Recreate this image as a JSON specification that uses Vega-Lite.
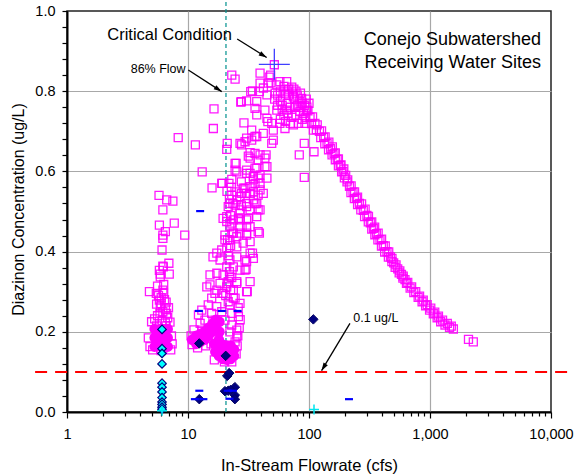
{
  "$schema": "https://vega.github.io/schema/vega-lite/v6.json",
  "width": 484,
  "height": 401,
  "autosize": {"type": "none"},
  "padding": {"left": 67, "top": 11, "right": 32, "bottom": 62},
  "background": "white",
  "config": {
    "font": "Liberation Sans",
    "view": {"stroke": "#222222", "strokeWidth": 1.5},
    "axis": {"labelFont": "Liberation Sans", "titleFont": "Liberation Sans", "labelColor": "#000", "titleColor": "#000", "domainColor": "#000", "tickColor": "#000", "titleFontWeight": "normal"}
  },
  "datasets": {
    "samples": [
      {"flow":8.3,"conc":0.684},{"flow":5.76,"conc":0.54},{"flow":6.67,"conc":0.529},{"flow":7.5,"conc":0.526},{"flow":6.2,"conc":0.504},{"flow":5.8,"conc":0.466},{"flow":7.7,"conc":0.471},{"flow":6.5,"conc":0.45},{"flow":6.2,"conc":0.441},{"flow":6.2,"conc":0.433},{"flow":9.4,"conc":0.441},{"flow":6.1,"conc":0.404},{"flow":6.95,"conc":0.371},{"flow":6.2,"conc":0.364},{"flow":5.8,"conc":0.353},{"flow":5.9,"conc":0.337},{"flow":7.0,"conc":0.344},{"flow":5.9,"conc":0.344},{"flow":6.25,"conc":0.362},{"flow":5.6,"conc":0.314},{"flow":6.2,"conc":0.304},{"flow":4.8,"conc":0.3},{"flow":5.47,"conc":0.296},{"flow":6.3,"conc":0.296},{"flow":6.6,"conc":0.274},{"flow":5.8,"conc":0.279},{"flow":5.5,"conc":0.269},{"flow":6.5,"conc":0.257},{"flow":5.87,"conc":0.246},{"flow":6.66,"conc":0.246},{"flow":5.7,"conc":0.29},{"flow":6.0,"conc":0.285},{"flow":6.4,"conc":0.28},{"flow":5.9,"conc":0.262},{"flow":6.2,"conc":0.25},{"flow":5.6,"conc":0.24},{"flow":6.8,"conc":0.235},{"flow":5.3,"conc":0.232},{"flow":6.1,"conc":0.228},{"flow":5.0,"conc":0.225},{"flow":6.5,"conc":0.222},{"flow":7.1,"conc":0.224},{"flow":4.7,"conc":0.185},{"flow":4.85,"conc":0.163},{"flow":7.3,"conc":0.19},{"flow":7.4,"conc":0.17},{"flow":5.1,"conc":0.155},{"flow":7.2,"conc":0.155},{"flow":6.0,"conc":0.153},{"flow":5.5,"conc":0.215},{"flow":6.6,"conc":0.215},{"flow":6.9,"conc":0.26},{"flow":6.0,"conc":0.27},{"flow":6.3,"conc":0.318},
      {"flow":23.0,"conc":0.84},{"flow":24.5,"conc":0.83},{"flow":16.4,"conc":0.756},{"flow":16.2,"conc":0.707},{"flow":11.5,"conc":0.666},{"flow":21.1,"conc":0.67},{"flow":20.9,"conc":0.655},{"flow":27.3,"conc":0.773},{"flow":33.0,"conc":0.799},{"flow":30.5,"conc":0.776},{"flow":39.4,"conc":0.845},{"flow":48.2,"conc":0.84},{"flow":46.0,"conc":0.82},{"flow":39.4,"conc":0.82},{"flow":57.5,"conc":0.824},{"flow":65.4,"conc":0.824},{"flow":54.2,"conc":0.816},{"flow":52.5,"conc":0.795},{"flow":44.9,"conc":0.791},{"flow":37.0,"conc":0.774},{"flow":35.8,"conc":0.757},{"flow":43.2,"conc":0.753},{"flow":37.0,"conc":0.741},{"flow":44.9,"conc":0.732},{"flow":54.2,"conc":0.753},{"flow":65.4,"conc":0.753},{"flow":76.7,"conc":0.761},{"flow":74.3,"conc":0.786},{"flow":86.9,"conc":0.782},{"flow":95.7,"conc":0.753},{"flow":92.6,"conc":0.72},{"flow":108.5,"conc":0.703},{"flow":91.4,"conc":0.67},{"flow":83.1,"conc":0.641},{"flow":91.4,"conc":0.585},{"flow":110,"conc":0.649},{"flow":45.7,"conc":0.724},{"flow":49.2,"conc":0.72},{"flow":57.5,"conc":0.72},{"flow":63.3,"conc":0.707},{"flow":74.3,"conc":0.716},{"flow":50.7,"conc":0.703},{"flow":41.9,"conc":0.695},{"flow":35.8,"conc":0.687},{"flow":30.5,"conc":0.683},{"flow":26.9,"conc":0.67},{"flow":29.6,"conc":0.674},{"flow":33.6,"conc":0.678},{"flow":49.2,"conc":0.67},{"flow":50.7,"conc":0.678},{"flow":32.6,"conc":0.647},{"flow":35.8,"conc":0.645},{"flow":39.4,"conc":0.641},{"flow":44.2,"conc":0.641},{"flow":43.2,"conc":0.633},{"flow":38.0,"conc":0.628},{"flow":32.6,"conc":0.633},{"flow":43.2,"conc":0.612},{"flow":35.8,"conc":0.608},{"flow":24.5,"conc":0.62},{"flow":25.3,"conc":0.599},{"flow":30.5,"conc":0.595},{"flow":29.0,"conc":0.721},{"flow":27.6,"conc":0.774},{"flow":34.1,"conc":0.801},{"flow":46.9,"conc":0.835},{"flow":48.5,"conc":0.821},{"flow":38.9,"conc":0.799},{"flow":27.7,"conc":0.666},{"flow":33.6,"conc":0.703},{"flow":37.0,"conc":0.687},{"flow":31.5,"conc":0.638},{"flow":44.9,"conc":0.612},{"flow":30.5,"conc":0.603},{"flow":13.1,"conc":0.599},{"flow":51.7,"conc":0.866},{"flow":42,"conc":0.808},{"flow":58,"conc":0.8},{"flow":62,"conc":0.812},{"flow":68,"conc":0.805},{"flow":72,"conc":0.81},{"flow":78,"conc":0.8},
      {"flow":52,"conc":0.78},{"flow":55,"conc":0.765},{"flow":55,"conc":0.79},{"flow":58,"conc":0.775},{"flow":60,"conc":0.755},{"flow":63,"conc":0.795},{"flow":66,"conc":0.77},{"flow":68,"conc":0.79},{"flow":70,"conc":0.76},{"flow":73,"conc":0.795},{"flow":76,"conc":0.78},{"flow":80,"conc":0.79},{"flow":84,"conc":0.775},{"flow":88,"conc":0.77},{"flow":92,"conc":0.765},{"flow":96,"conc":0.76},{"flow":62,"conc":0.74},{"flow":67,"conc":0.745},{"flow":72,"conc":0.735},{"flow":78,"conc":0.74},{"flow":84,"conc":0.75},{"flow":90,"conc":0.745},{"flow":80,"conc":0.765},{"flow":86,"conc":0.76},{"flow":58,"conc":0.73},{"flow":64,"conc":0.725},{"flow":70,"conc":0.72},{"flow":82,"conc":0.72},{"flow":88,"conc":0.73},{"flow":94,"conc":0.735},{"flow":60,"conc":0.765},{"flow":75,"conc":0.805},{"flow":85,"conc":0.795},{"flow":95,"conc":0.78},{"flow":66,"conc":0.8},{"flow":100,"conc":0.77},
      {"flow":34.7,"conc":0.587},{"flow":38.0,"conc":0.583},{"flow":44.9,"conc":0.583},{"flow":35.8,"conc":0.57},{"flow":32.6,"conc":0.562},{"flow":27.6,"conc":0.574},{"flow":28.6,"conc":0.558},{"flow":25.3,"conc":0.549},{"flow":23.0,"conc":0.541},{"flow":26.9,"conc":0.537},{"flow":30.5,"conc":0.545},{"flow":34.7,"conc":0.549},{"flow":38.0,"conc":0.541},{"flow":41.9,"conc":0.545},{"flow":35.8,"conc":0.52},{"flow":30.5,"conc":0.52},{"flow":27.6,"conc":0.516},{"flow":24.5,"conc":0.516},{"flow":22.2,"conc":0.52},{"flow":21.5,"conc":0.512},{"flow":26.9,"conc":0.504},{"flow":32.6,"conc":0.504},{"flow":38.0,"conc":0.504},{"flow":37.0,"conc":0.487},{"flow":31.5,"conc":0.483},{"flow":26.9,"conc":0.479},{"flow":23.7,"conc":0.479},{"flow":20.9,"conc":0.475},{"flow":22.2,"conc":0.462},{"flow":26.9,"conc":0.462},{"flow":30.5,"conc":0.462},{"flow":30.5,"conc":0.446},{"flow":26.9,"conc":0.446},{"flow":23.7,"conc":0.446},{"flow":20.2,"conc":0.441},{"flow":38.0,"conc":0.45},{"flow":15.8,"conc":0.559},{"flow":19.2,"conc":0.57},{"flow":25.0,"conc":0.62},{"flow":37.0,"conc":0.608},{"flow":32.6,"conc":0.595},{"flow":39.4,"conc":0.591},{"flow":34.7,"conc":0.579},{"flow":39.4,"conc":0.57},{"flow":23.0,"conc":0.58},{"flow":24.5,"conc":0.603},{"flow":29.6,"conc":0.558},{"flow":32.6,"conc":0.545},{"flow":39.4,"conc":0.554},{"flow":34.7,"conc":0.529},{"flow":27.6,"conc":0.545},{"flow":25.3,"conc":0.529},{"flow":30.5,"conc":0.512},{"flow":26.9,"conc":0.495},{"flow":37.0,"conc":0.52},{"flow":39.4,"conc":0.504},{"flow":30.5,"conc":0.479},{"flow":32.6,"conc":0.462},{"flow":26.1,"conc":0.483},{"flow":23.0,"conc":0.471},{"flow":20.9,"conc":0.487},{"flow":19.5,"conc":0.483},{"flow":23.0,"conc":0.446},{"flow":25.3,"conc":0.437},{"flow":30.5,"conc":0.441},{"flow":32.6,"conc":0.425},{"flow":28.6,"conc":0.421},{"flow":25.3,"conc":0.412},{"flow":22.2,"conc":0.429},{"flow":20.2,"conc":0.429},{"flow":20.9,"conc":0.408},{"flow":19.0,"conc":0.404},{"flow":21,"conc":0.55},{"flow":22,"conc":0.53},{"flow":23.5,"conc":0.52},{"flow":22.5,"conc":0.49},{"flow":21.8,"conc":0.57},{"flow":22.8,"conc":0.56},{"flow":21.2,"conc":0.43},{"flow":22.5,"conc":0.415},{"flow":38.9,"conc":0.446},{"flow":34.1,"conc":0.396},{"flow":19.0,"conc":0.57},
      {"flow":32.6,"conc":0.396},{"flow":34.7,"conc":0.383},{"flow":29.6,"conc":0.379},{"flow":25.3,"conc":0.387},{"flow":22.2,"conc":0.379},{"flow":17.3,"conc":0.396},{"flow":16.1,"conc":0.387},{"flow":18.4,"conc":0.379},{"flow":20.9,"conc":0.362},{"flow":23.7,"conc":0.362},{"flow":26.9,"conc":0.354},{"flow":29.6,"conc":0.354},{"flow":32.6,"conc":0.325},{"flow":25.3,"conc":0.325},{"flow":22.2,"conc":0.337},{"flow":19.5,"conc":0.342},{"flow":17.3,"conc":0.346},{"flow":18.4,"conc":0.321},{"flow":20.9,"conc":0.312},{"flow":15.2,"conc":0.342},{"flow":14.3,"conc":0.312},{"flow":16.7,"conc":0.296},{"flow":19.0,"conc":0.296},{"flow":23.7,"conc":0.304},{"flow":30.5,"conc":0.3},{"flow":24.5,"conc":0.284},{"flow":15.2,"conc":0.317},{"flow":21.5,"conc":0.325},{"flow":25.3,"conc":0.321},{"flow":17.3,"conc":0.304},{"flow":15.7,"conc":0.284},{"flow":23.7,"conc":0.284},{"flow":26.9,"conc":0.271},{"flow":22.2,"conc":0.267},{"flow":17.3,"conc":0.263},{"flow":14.7,"conc":0.267},{"flow":13.0,"conc":0.254},{"flow":12.2,"conc":0.242},{"flow":15.7,"conc":0.246},{"flow":19.0,"conc":0.25},{"flow":23.0,"conc":0.246},{"flow":26.1,"conc":0.238},{"flow":20.2,"conc":0.229},{"flow":16.7,"conc":0.229},{"flow":13.8,"conc":0.229},{"flow":12.6,"conc":0.221},{"flow":13.0,"conc":0.204},{"flow":23.0,"conc":0.217},{"flow":25.3,"conc":0.204},{"flow":22.2,"conc":0.2},{"flow":25.3,"conc":0.188},{"flow":24.5,"conc":0.175},{"flow":21.5,"conc":0.39},{"flow":22,"conc":0.35},{"flow":23,"conc":0.335},{"flow":21,"conc":0.32},{"flow":22.5,"conc":0.305},{"flow":20.5,"conc":0.29},{"flow":21.5,"conc":0.275},{"flow":26,"conc":0.26},{"flow":27,"conc":0.23},{"flow":26.5,"conc":0.21},{"flow":25.8,"conc":0.19},{"flow":11.2,"conc":0.205},{"flow":10.6,"conc":0.19},{"flow":10.8,"conc":0.168},{"flow":12,"conc":0.16},{"flow":14,"conc":0.165},{"flow":15.5,"conc":0.17},{"flow":25.5,"conc":0.165},{"flow":25,"conc":0.145},{"flow":16.5,"conc":0.13},{"flow":23,"conc":0.125},{"flow":20,"conc":0.125},{"flow":30.5,"conc":0.375},{"flow":30.2,"conc":0.356},{"flow":30.9,"conc":0.3},{"flow":19.5,"conc":0.296},
      {"flow":98,"conc":0.751},{"flow":102,"conc":0.735},{"flow":105,"conc":0.719},{"flow":107,"conc":0.736},{"flow":112,"conc":0.72},{"flow":115,"conc":0.704},{"flow":117,"conc":0.716},{"flow":122,"conc":0.7},{"flow":125,"conc":0.684},{"flow":127,"conc":0.701},{"flow":132,"conc":0.685},{"flow":135,"conc":0.669},{"flow":136,"conc":0.686},{"flow":141,"conc":0.67},{"flow":145,"conc":0.654},{"flow":146,"conc":0.673},{"flow":151,"conc":0.657},{"flow":155,"conc":0.641},{"flow":156,"conc":0.661},{"flow":161,"conc":0.645},{"flow":165,"conc":0.629},{"flow":165,"conc":0.646},{"flow":171,"conc":0.63},{"flow":175,"conc":0.614},{"flow":175,"conc":0.631},{"flow":181,"conc":0.615},{"flow":186,"conc":0.599},{"flow":184,"conc":0.616},{"flow":191,"conc":0.6},{"flow":196,"conc":0.584},{"flow":194,"conc":0.606},{"flow":201,"conc":0.59},{"flow":206,"conc":0.574},{"flow":209,"conc":0.579},{"flow":216,"conc":0.563},{"flow":222,"conc":0.547},{"flow":223,"conc":0.564},{"flow":231,"conc":0.548},{"flow":237,"conc":0.532},{"flow":238,"conc":0.549},{"flow":246,"conc":0.533},{"flow":252,"conc":0.517},{"flow":252,"conc":0.536},{"flow":261,"conc":0.52},{"flow":268,"conc":0.504},{"flow":272,"conc":0.519},{"flow":281,"conc":0.503},{"flow":288,"conc":0.487},{"flow":291,"conc":0.506},{"flow":301,"conc":0.49},{"flow":309,"conc":0.474},{"flow":310,"conc":0.488},{"flow":321,"conc":0.472},{"flow":330,"conc":0.456},{"flow":330,"conc":0.474},{"flow":341,"conc":0.458},{"flow":350,"conc":0.442},{"flow":349,"conc":0.461},{"flow":361,"conc":0.445},{"flow":371,"conc":0.429},{"flow":373,"conc":0.446},{"flow":386,"conc":0.43},{"flow":397,"conc":0.414},{"flow":398,"conc":0.431},{"flow":411,"conc":0.415},{"flow":422,"conc":0.399},{"flow":427,"conc":0.414},{"flow":441,"conc":0.4},{"flow":453,"conc":0.386},{"flow":456,"conc":0.399},{"flow":471,"conc":0.387},{"flow":484,"conc":0.375},{"flow":485,"conc":0.383},{"flow":501,"conc":0.372},{"flow":515,"conc":0.361},{"flow":524,"conc":0.367},{"flow":541,"conc":0.357},{"flow":556,"conc":0.347},{"flow":563,"conc":0.352},{"flow":581,"conc":0.343},{"flow":597,"conc":0.334},{"flow":601,"conc":0.339},{"flow":621,"conc":0.33},{"flow":639,"conc":0.321},{"flow":655,"conc":0.323},{"flow":685,"conc":0.309},{"flow":705,"conc":0.312},{"flow":735,"conc":0.298},{"flow":762,"conc":0.3},{"flow":798,"conc":0.286},{"flow":820,"conc":0.289},{"flow":860,"conc":0.275},{"flow":880,"conc":0.279},{"flow":920,"conc":0.265},{"flow":948,"conc":0.268},{"flow":992,"conc":0.254},{"flow":1015,"conc":0.259},{"flow":1065,"conc":0.245},{"flow":1095,"conc":0.249},{"flow":1145,"conc":0.235},{"flow":1175,"conc":0.239},{"flow":1225,"conc":0.225},{"flow":1270,"conc":0.229},{"flow":1330,"conc":0.217},{"flow":1390,"conc":0.221},{"flow":1450,"conc":0.211},{"flow":1500,"conc":0.214},{"flow":1560,"conc":0.207},{"flow":2080,"conc":0.181},{"flow":2280,"conc":0.175}
    ],
    "samples_overlap": [
      {"flow":5.3,"conc":0.163},{"flow":6.0,"conc":0.163},{"flow":6.8,"conc":0.163},{"flow":5.3,"conc":0.185},{"flow":6.0,"conc":0.185},{"flow":6.8,"conc":0.185},{"flow":5.3,"conc":0.207},{"flow":6.0,"conc":0.207},{"flow":6.8,"conc":0.207},{"flow":5.6,"conc":0.174},{"flow":6.4,"conc":0.196},{"flow":5.6,"conc":0.196},{"flow":6.4,"conc":0.174},
      {"flow":10.8,"conc":0.18},{"flow":11.7,"conc":0.17},{"flow":11.7,"conc":0.19},{"flow":12.7,"conc":0.175},{"flow":12.7,"conc":0.195},{"flow":13.7,"conc":0.18},{"flow":13.7,"conc":0.2},{"flow":14.8,"conc":0.19},{"flow":14.8,"conc":0.21},{"flow":15.9,"conc":0.2},{"flow":15.9,"conc":0.22},{"flow":17,"conc":0.21},{"flow":17,"conc":0.23},{"flow":18.2,"conc":0.2},{"flow":18.2,"conc":0.225},
      {"flow":16.5,"conc":0.17},{"flow":16.8,"conc":0.15},{"flow":18,"conc":0.14},{"flow":18,"conc":0.16},{"flow":18,"conc":0.18},{"flow":19.5,"conc":0.132},{"flow":19.5,"conc":0.15},{"flow":19.5,"conc":0.168},{"flow":21,"conc":0.13},{"flow":21,"conc":0.148},{"flow":21,"conc":0.166},{"flow":22.5,"conc":0.132},{"flow":22.5,"conc":0.15},{"flow":22.5,"conc":0.166},{"flow":24,"conc":0.14},{"flow":24,"conc":0.156}
    ],
    "cyan_site": [
      {"flow":6.1,"conc":0.206},{"flow":6.1,"conc":0.158},{"flow":6.1,"conc":0.146},{"flow":6.1,"conc":0.12},{"flow":6.1,"conc":0.072},{"flow":6.1,"conc":0.062},{"flow":6.1,"conc":0.05},{"flow":6.1,"conc":0.036},{"flow":6.1,"conc":0.025},{"flow":6.1,"conc":0.019},{"flow":6.1,"conc":0.012},{"flow":6.1,"conc":0.007}
    ],
    "navy_site": [
      {"flow":12.4,"conc":0.171},{"flow":20.5,"conc":0.14},{"flow":21.1,"conc":0.09},{"flow":21.9,"conc":0.097},{"flow":20.2,"conc":0.052},{"flow":24.4,"conc":0.062},{"flow":24.4,"conc":0.042},{"flow":24.4,"conc":0.032},{"flow":12.4,"conc":0.032},{"flow":108.6,"conc":0.231},{"flow":21.5,"conc":0.053},{"flow":22.5,"conc":0.055}
    ],
    "dash_site": [
      {"flow":12.6,"conc":0.501},{"flow":12.3,"conc":0.252},{"flow":19.0,"conc":0.252},{"flow":25.7,"conc":0.252},{"flow":12.4,"conc":0.053},{"flow":11.4,"conc":0.032},{"flow":13.4,"conc":0.032},{"flow":21.3,"conc":0.053},{"flow":23.5,"conc":0.053},{"flow":22,"conc":0.033},{"flow":214,"conc":0.032}
    ],
    "cyan_plus": [{"flow":6.1,"conc":0.003},{"flow":110,"conc":0.006}],
    "critical": [{"flow":51.7,"conc":0.867}],
    "limit": [{"flow":0.545,"flow_end":14000,"conc":0.1}],
    "flow86": [{"flow":20.6,"conc":0,"conc_end":1.028}],
    "arrows": [
      {"id":"critical","flow":25.5,"conc":0.93,"flow_end":44.7,"conc_end":0.884},
      {"id":"flow86","flow":10.06,"conc":0.853,"flow_end":19.0,"conc_end":0.799},
      {"id":"limit","flow":218,"conc":0.221,"flow_end":127,"conc_end":0.103}
    ],
    "heads": [
      {"id":"critical","flow":44.7,"conc":0.884},
      {"id":"flow86","flow":19.0,"conc":0.799},
      {"id":"limit","flow":127,"conc":0.103}
    ],
    "titles": [
      {"label":"Conejo Subwatershed","flow":8265,"conc":0.9148},
      {"label":"Receiving Water Sites","flow":8265,"conc":0.8575}
    ],
    "labels_big": [{"label":"Critical Condition","flow":2.15,"conc":0.928}],
    "labels_small": [
      {"label":"86% Flow","flow":3.36,"conc":0.846},
      {"label":"0.1 ug/L","flow":232,"conc":0.225}
    ]
  },
  "encoding": {
    "x": {
      "field": "flow", "type": "quantitative",
      "scale": {"type": "log", "domain": [1, 10000]},
      "axis": {
        "title": "In-Stream Flowrate (cfs)",
        "values": [1,2,3,4,5,6,7,8,9,10,20,30,40,50,60,70,80,90,100,200,300,400,500,600,700,800,900,1000,2000,3000,4000,5000,6000,7000,8000,9000,10000],
        "labelExpr": "indexof([1,10,100,1000,10000], datum.value) >= 0 ? format(datum.value, ',') : ''",
        "labelOverlap": false, "labelFlush": false, "labelBound": false,
        "labelFontSize": 14.5, "labelPadding": 9,
        "tickSize": {"condition": {"test": "indexof([1,10,100,1000,10000], datum.value) >= 0", "value": 6}, "value": 4},
        "tickWidth": 1.2, "domainWidth": 2,
        "grid": true, "gridColor": "#A8A8A8", "gridWidth": 1.2,
        "gridOpacity": {"condition": {"test": "indexof([10,100,1000], datum.value) >= 0", "value": 1}, "value": 0},
        "titleFontSize": 16.5, "titleX": 242, "titleY": 58, "titleBaseline": "alphabetic", "titleAlign": "center"
      }
    },
    "y": {
      "field": "conc", "type": "quantitative",
      "scale": {"domain": [0, 1]},
      "axis": {
        "title": "Diazinon Concentration (ug/L)",
        "values": [0,0.04,0.08,0.12,0.16,0.2,0.24,0.28,0.32,0.36,0.4,0.44,0.48,0.52,0.56,0.6,0.64,0.68,0.72,0.76,0.8,0.84,0.88,0.92,0.96,1],
        "labelExpr": "abs(datum.value*5 - round(datum.value*5)) < 0.001 ? format(datum.value, '.1f') : ''",
        "labelOverlap": false, "labelBound": false,
        "labelFontSize": 14.5, "labelPadding": 7,
        "tickSize": 5, "tickWidth": 1.2, "domainWidth": 2,
        "grid": true, "gridColor": "#A8A8A8", "gridWidth": 1.2,
        "gridOpacity": {"condition": {"test": "abs(datum.value*5 - round(datum.value*5)) < 0.001 && datum.value > 0.01 && datum.value < 0.99", "value": 1}, "value": 0},
        "titleFontSize": 16, "titleX": -44, "titleY": 198, "titleAngle": -90, "titleBaseline": "alphabetic", "titleAlign": "center"
      }
    }
  },
  "layer": [
    {"data": {"name": "flow86"}, "mark": {"type": "rule", "color": "#00918E", "strokeWidth": 1.2, "strokeDash": [4, 3]}, "encoding": {"y2": {"field": "conc_end"}}},
    {"data": {"name": "samples"}, "mark": {"type": "point", "shape": "square", "filled": false, "stroke": "#FF00FF", "strokeWidth": 1.3, "size": 64, "opacity": 0.9}},
    {"data": {"name": "samples_overlap"}, "mark": {"type": "point", "shape": "circle", "filled": true, "color": "#FF00FF", "size": 110, "opacity": 1}},
    {"data": {"name": "limit"}, "mark": {"type": "rule", "color": "#FF0000", "strokeWidth": 2, "strokeDash": [12, 8]}, "encoding": {"x2": {"field": "flow_end"}}},
    {"data": {"name": "cyan_site"}, "mark": {"type": "point", "shape": "diamond", "filled": true, "fill": "#00FFFF", "stroke": "#000080", "strokeWidth": 1.2, "size": 72, "opacity": 1}},
    {"data": {"name": "navy_site"}, "mark": {"type": "point", "shape": "diamond", "filled": true, "fill": "#000080", "stroke": "#000060", "strokeWidth": 1, "size": 90, "opacity": 1}},
    {"data": {"name": "dash_site"}, "mark": {"type": "point", "shape": "M-1,0H1", "filled": false, "stroke": "#0000FF", "strokeWidth": 2.2, "size": 64, "opacity": 1}},
    {"data": {"name": "cyan_plus"}, "mark": {"type": "point", "shape": "M-1,0H1M0,-1V1", "filled": false, "stroke": "#00E5EE", "strokeWidth": 1.5, "size": 100, "opacity": 1}},
    {"data": {"name": "critical"}, "mark": {"type": "point", "shape": "M-1,0H1M0,-1V1", "filled": false, "stroke": "#4040FF", "strokeWidth": 1.3, "size": 961, "opacity": 1}},
    {"data": {"name": "arrows"}, "mark": {"type": "rule", "color": "#000000", "strokeWidth": 1.3}, "encoding": {"x2": {"field": "flow_end"}, "y2": {"field": "conc_end"}}},
    {"data": {"name": "heads"}, "transform": [{"filter": "datum.id == 'critical'"}], "mark": {"type": "point", "shape": "M0,0L0.5,1.6L-0.5,1.6Z", "filled": true, "color": "#000000", "size": 100, "angle": 122, "opacity": 1}},
    {"data": {"name": "heads"}, "transform": [{"filter": "datum.id == 'flow86'"}], "mark": {"type": "point", "shape": "M0,0L0.5,1.6L-0.5,1.6Z", "filled": true, "color": "#000000", "size": 100, "angle": 123, "opacity": 1}},
    {"data": {"name": "heads"}, "transform": [{"filter": "datum.id == 'limit'"}], "mark": {"type": "point", "shape": "M0,0L0.5,1.6L-0.5,1.6Z", "filled": true, "color": "#000000", "size": 100, "angle": 211, "opacity": 1}},
    {"data": {"name": "titles"}, "mark": {"type": "text", "font": "Liberation Sans", "fontSize": 18, "align": "right", "baseline": "alphabetic", "color": "#000"}, "encoding": {"text": {"field": "label"}}},
    {"data": {"name": "labels_big"}, "mark": {"type": "text", "font": "Liberation Sans", "fontSize": 16.5, "align": "left", "baseline": "alphabetic", "color": "#000"}, "encoding": {"text": {"field": "label"}}},
    {"data": {"name": "labels_small"}, "mark": {"type": "text", "font": "Liberation Sans", "fontSize": 12.5, "align": "left", "baseline": "alphabetic", "color": "#000"}, "encoding": {"text": {"field": "label"}}}
  ]
}
